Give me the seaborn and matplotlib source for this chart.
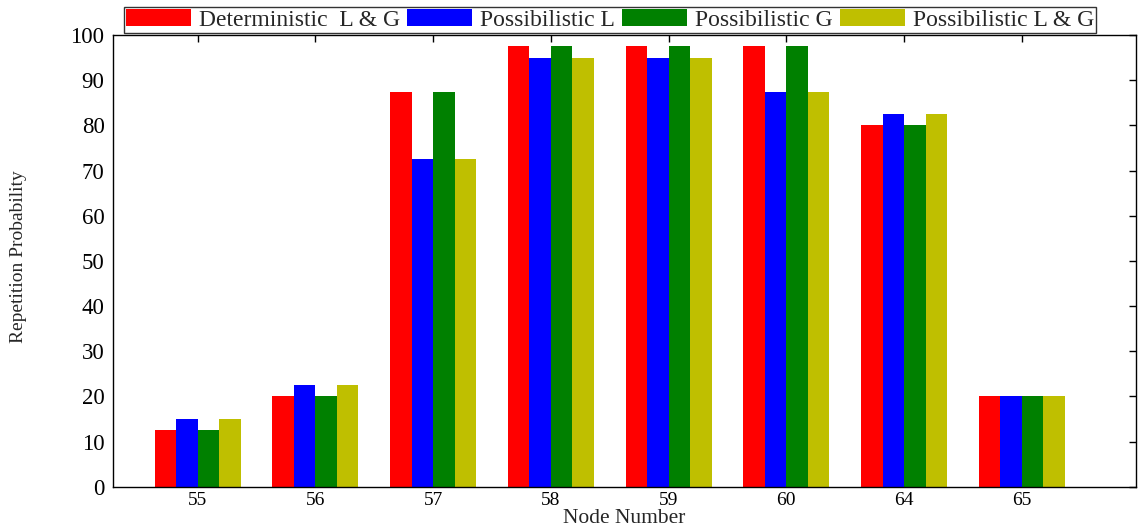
import pandas as pd
import numpy as np
import matplotlib
matplotlib.use("Agg")
import matplotlib.pyplot as plt
import seaborn as sns

# values
nodes = ['55', '56', '57', '58', '59', '60', '64', '65']
deterministic_lg = [12.5, 20, 87.5, 97.5, 97.5, 97.5, 80, 20]
possibilistic_l = [15, 22.5, 72.5, 95, 95, 87.5, 82.5, 20]
possibilistic_g = [12.5, 20, 87.5, 97.5, 97.5, 97.5, 80, 20]
possibilistic_lg = [15, 22.5, 72.5, 95, 95, 87.5, 82.5, 20]
series = ['Deterministic  L & G', 'Possibilistic L', 'Possibilistic G', 'Possibilistic L & G']
colors = ['#ff0000', '#0000ff', '#008000', '#bfbf00']

df = pd.DataFrame({
    'Node': nodes * 4,
    'Value': deterministic_lg + possibilistic_l + possibilistic_g + possibilistic_lg,
    'Series': np.repeat(series, len(nodes)),
})

sns.set_style('white')
plt.rcParams['font.family'] = ['Liberation Serif', 'DejaVu Serif']

fig = plt.figure(figsize=(11.4, 5.32), dpi=100)
ax = fig.add_axes([0.099, 0.085, 0.8975, 0.849])

sns.barplot(data=df, x='Node', y='Value', hue='Series', order=nodes, hue_order=series,
            palette=colors, width=0.73, saturation=1, linewidth=0, ax=ax, legend=True)

ax.set_xlim(-0.72, 7.97)
ax.set_ylim(0, 100)
ax.set_yticks(range(0, 101, 10))
ax.set_xlabel('Node Number', fontsize=15.5, labelpad=0)
ax.set_ylabel('Repetition Probability', fontsize=14)
ax.yaxis.set_label_coords(-0.084, 0.51)
ax.tick_params(direction='in', length=5, width=1, top=True, right=True,
               colors='black', pad=6)
ax.tick_params(axis='y', labelsize=16.5)
ax.tick_params(axis='x', labelsize=14, pad=4)
for s in ax.spines.values():
    s.set_color('black')
    s.set_linewidth(1)

ax.legend(loc='lower center', bbox_to_anchor=(0.486, 1.0), ncol=4, fontsize=17,
          frameon=True, fancybox=False, edgecolor='black', handlelength=2.75,
          handleheight=0.7, columnspacing=0.3, handletextpad=0.35,
          borderpad=0.08, borderaxespad=0.1)
ax.get_legend().get_frame().set_linewidth(1)

fig.savefig('out.png', dpi=100)
